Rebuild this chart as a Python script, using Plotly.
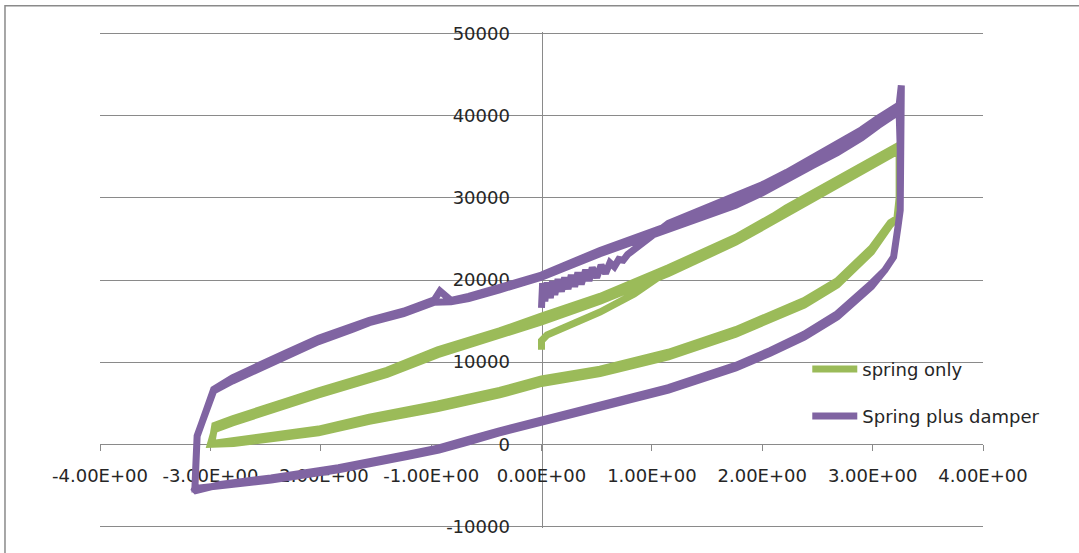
import plotly.graph_objects as go

# ---------------- data ----------------
x_tick_vals = [-4, -3, -2, -1, 0, 1, 2, 3, 4]
x_tick_text = ["-4.00E+00", "-3.00E+00", "-2.00E+00", "-1.00E+00", "0.00E+00",
               "1.00E+00", "2.00E+00", "3.00E+00", "4.00E+00"]
y_tick_vals = [-10000, 0, 10000, 20000, 30000, 40000, 50000]
y_tick_text = ["-10000", "0", "10000", "20000", "30000", "40000", "50000"]

# --- spring only ---
spring_start_x = [0.00, 0.00, 0.05, 0.22, 0.53, 0.84, 1.08]
spring_start_y = [11500, 12600, 13300, 14300, 16100, 18300, 20500]

spring_upA_x = [1.15, 1.50, 1.76, 2.00, 2.22, 2.45, 2.68, 2.95, 3.21]
spring_upA_y = [21400, 23300, 25200, 26900, 28800, 30500, 32200, 34300, 36200]

spring_upB_x = [-2.96, -2.80, -2.63, -2.32, -2.02, -1.71, -1.40, -0.94, -0.38, 0.00,
                0.53, 1.15, 1.76, 2.22, 2.68, 3.19]
spring_upB_y = [1800, 2600, 3400, 4700, 6000, 7200, 8500, 10900, 13200, 14900,
                17400, 20800, 24600, 28100, 31500, 35400]

spring_upC_x = [-2.96, -2.80, -2.63, -2.32, -2.02, -1.71, -1.40, -0.94, -0.38, 0.00,
                0.53, 1.15, 1.76, 2.22, 2.68, 3.19]
spring_upC_y = [2300, 3100, 3900, 5200, 6500, 7700, 9000, 11500, 13800, 15600,
                18000, 21500, 25200, 28700, 32200, 36000]

spring_right_x = [3.24, 3.24, 3.22]
spring_right_y = [35500, 30000, 27500]

spring_lowA_x = [3.16, 2.99, 2.68, 2.38, 2.07, 1.76, 1.15, 0.53, 0.00, -0.38,
                 -0.94, -1.56, -2.02, -2.48, -2.79, -3.00]
spring_lowA_y = [26700, 23400, 19400, 16950, 15100, 13400, 10650, 8600, 7400, 6000,
                 4350, 2800, 1400, 600, 100, 0]

spring_lowB_x = [3.16, 2.99, 2.68, 2.38, 2.07, 1.76, 1.15, 0.53, 0.00, -0.38,
                 -0.94, -1.56, -2.02, -2.48, -2.79, -3.00]
spring_lowB_y = [27000, 23900, 19900, 17500, 15650, 13950, 11200, 9150, 7950, 6550,
                 4900, 3300, 1850, 1000, 380, 50]

spring_left_x = [-2.98, -2.96]
spring_left_y = [700, 1900]

# --- spring plus damper ---
damper_start_x = [0.00, 0.01, 0.03, 0.05, 0.08, 0.10, 0.12, 0.15, 0.18, 0.21,
                  0.24, 0.27, 0.30, 0.33, 0.36, 0.40, 0.43, 0.46, 0.50, 0.54,
                  0.58, 0.62, 0.66, 0.70, 0.74, 0.78]
damper_start_y = [16600, 19600, 17400, 19700, 17800, 19900, 18200, 20100, 18600, 20300,
                  18900, 20600, 19200, 20900, 19500, 21200, 19900, 21500, 20300, 21800,
                  20800, 22100, 21600, 22500, 22400, 23100]

damper_upA_x = [1.15, 1.45, 1.76, 2.00, 2.22, 2.45, 2.68, 2.90, 3.05, 3.24]
damper_upA_y = [26900, 28500, 30100, 31600, 33100, 34900, 36500, 38300, 39700, 41300]

damper_upB_x = [-2.97, -2.80, -2.63, -2.32, -2.02, -1.71, -1.56, -1.25, -0.97, -0.82,
                -0.66, -0.38, -0.05, 0.00, 0.53, 1.15, 1.45, 1.76, 2.00, 2.22,
                2.45, 2.68, 2.90, 3.05, 3.24]
damper_upB_y = [6500, 7700, 8700, 10600, 12500, 14000, 14800, 15900, 17300, 17350,
                17750, 18800, 20150, 20350, 23200, 26200, 27600, 29100, 30600, 32100,
                33900, 35500, 37300, 38800, 40500]

damper_upC_x = [-2.97, -2.80, -2.63, -2.32, -2.02, -1.71, -1.56, -1.25, -0.97, -0.92,
                -0.87, -0.82, -0.66, -0.38, -0.05, 0.00, 0.53, 1.15, 1.45, 1.76,
                2.00, 2.22, 2.45, 2.68, 2.90, 3.05, 3.24]
damper_upC_y = [6700, 8100, 9200, 11100, 12900, 14400, 15100, 16200, 17600, 18650,
                18000, 17500, 18000, 19100, 20500, 20600, 23600, 26600, 28100, 29600,
                31100, 32600, 34400, 36000, 37800, 39300, 40900]

damper_rightA_x = [3.26, 3.26, 3.25, 3.23, 3.19, 3.11]
damper_rightA_y = [43700, 36000, 28500, 26500, 22800, 21200]

damper_rightB_x = [3.25, 3.25, 3.23, 3.19, 3.11]
damper_rightB_y = [36000, 28500, 26500, 22800, 21200]

damper_lowA_x = [2.99, 2.68, 2.38, 2.07, 1.76, 1.15, 0.53, 0.00, -0.39, -0.66,
                 -0.93, -1.22, -1.84, -2.45, -2.91, -3.14]
damper_lowA_y = [19200, 15500, 13050, 11070, 9300, 6600, 4570, 2700, 1350, 300,
                 -700, -1500, -3100, -4350, -5150, -5400]

damper_lowB_x = [2.99, 2.68, 2.38, 2.07, 1.76, 1.15, 0.53, 0.00, -0.39, -0.66,
                 -0.93, -1.22, -1.84, -2.45, -2.91, -3.15]
damper_lowB_y = [19600, 15900, 13400, 11400, 9600, 6900, 4850, 3000, 1600, 600,
                 -450, -1250, -2850, -4100, -4900, -5700]

damper_left_x = [-3.14, -3.13, -3.12, -3.08, -3.04, -2.97]
damper_left_y = [-5300, -2000, 1000, 2500, 4200, 6500]

# ---------------- assemble the two series ----------------
spring_x = (spring_start_x + spring_upA_x + spring_right_x + spring_lowA_x + spring_left_x
            + spring_upB_x + spring_right_x + spring_lowB_x + spring_left_x + spring_upC_x)
spring_y = (spring_start_y + spring_upA_y + spring_right_y + spring_lowA_y + spring_left_y
            + spring_upB_y + spring_right_y + spring_lowB_y + spring_left_y + spring_upC_y)

damper_x = (damper_start_x + damper_upA_x + damper_rightA_x + damper_lowA_x + damper_left_x
            + damper_upB_x + damper_rightB_x + damper_lowB_x + damper_left_x + damper_upC_x)
damper_y = (damper_start_y + damper_upA_y + damper_rightA_y + damper_lowA_y + damper_left_y
            + damper_upB_y + damper_rightB_y + damper_lowB_y + damper_left_y + damper_upC_y)

GREEN = "#9BBB59"
PURPLE = "#8064A2"
GRID = "#8a8a8a"
TEXT = "#262626"
FONT = "DejaVu Sans"

Y_MIN, Y_MAX = -10200, 50200

fig = go.Figure()
fig.add_trace(go.Scatter(x=spring_x, y=spring_y, mode="lines", name="spring only",
                         line=dict(color=GREEN, width=7), legend="legend", showlegend=True))
fig.add_trace(go.Scatter(x=damper_x, y=damper_y, mode="lines", name="Spring plus damper",
                         line=dict(color=PURPLE, width=7), legend="legend2", showlegend=True))

fig.update_layout(
    width=1079, height=553,
    margin=dict(l=100, r=96, t=32, b=25),
    paper_bgcolor="white", plot_bgcolor="white",
    showlegend=True,
    font=dict(family=FONT, size=18, color=TEXT),
    xaxis=dict(range=[-4, 4], tickvals=x_tick_vals, ticktext=x_tick_text,
               showgrid=False, zeroline=False, showline=True, linecolor=GRID, linewidth=1,
               ticks="outside", ticklen=6, tickcolor=GRID, tickwidth=1,
               anchor="free", position=(0 - Y_MIN) / (Y_MAX - Y_MIN), layer="below traces",
               ticklabelstandoff=9, tickfont=dict(family=FONT, size=18, color=TEXT)),
    yaxis=dict(range=[Y_MIN, Y_MAX], tickvals=y_tick_vals, ticktext=y_tick_text,
               showgrid=True, gridcolor=GRID, gridwidth=1, zeroline=False,
               showline=True, linecolor=GRID, linewidth=1, ticks="",
               anchor="free", position=0.5, layer="below traces",
               ticklabelstandoff=28, tickfont=dict(family=FONT, size=18, color=TEXT)),
    legend=dict(x=0.801, y=0.32, xanchor="left", yanchor="middle",
                bgcolor="rgba(0,0,0,0)", itemwidth=45,
                font=dict(family=FONT, size=18, color=TEXT)),
    legend2=dict(x=0.801, y=0.225, xanchor="left", yanchor="middle",
                 bgcolor="rgba(0,0,0,0)", itemwidth=45,
                 font=dict(family=FONT, size=18, color=TEXT)),
    shapes=[dict(type="rect", xref="paper", yref="paper",
                 x0=-0.1076, x1=1.12, y0=-0.07, y1=1.053,
                 line=dict(color=GRID, width=1.5), fillcolor="rgba(0,0,0,0)", layer="below")],
)

fig.write_html("out.html", config={"displayModeBar": False},
               post_script="document.body.style.margin='0px';")
